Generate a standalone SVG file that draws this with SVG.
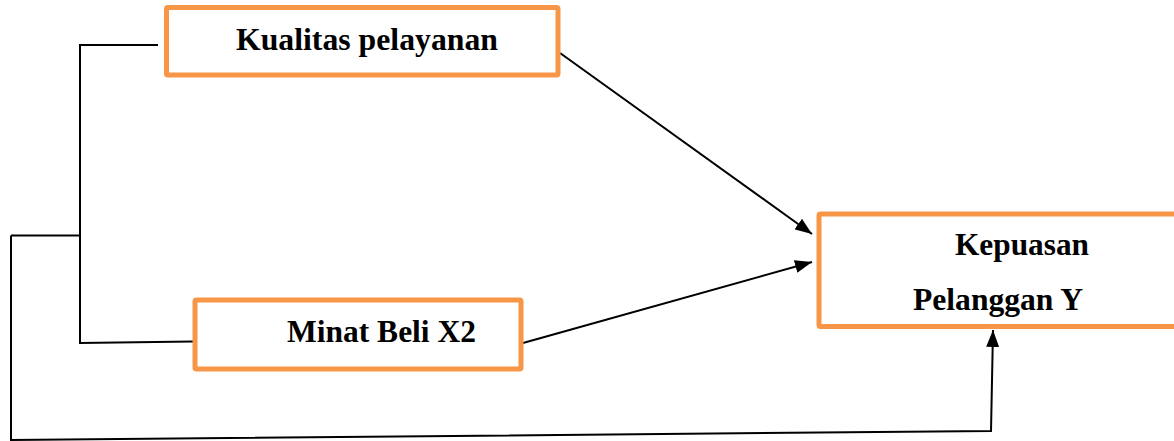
<svg xmlns="http://www.w3.org/2000/svg" width="1174" height="441" viewBox="0 0 1174 441">
  <style>
    .box { fill: #FFFFFF; stroke: #F79646; stroke-width: 5; }
    .label { font-family: "Liberation Serif", "Times New Roman", serif; font-weight: bold; font-size: 31.8px; fill: #000000; }
    .wire { fill: none; stroke: #000000; stroke-width: 2; }
    .arrow { fill: none; stroke: #000000; stroke-width: 2; marker-end: url(#head); }
  </style>
  <defs>
    <marker id="head" viewBox="0 0 17 13" refX="17" refY="6.5" markerWidth="17" markerHeight="13" markerUnits="userSpaceOnUse" orient="auto">
      <path d="M0,0 L17,6.5 L0,13 Z" fill="#000000"/>
    </marker>
  </defs>
  <rect width="1174" height="441" fill="#FFFFFF"/>

  <g id="connectors">
    <!-- bracket joining the two predictors -->
    <polyline class="wire" points="158,45 80,45 80,343 193,341.5"/>
    <line class="wire" x1="80" y1="235.5" x2="11" y2="235.5"/>
    <!-- outer loop to the outcome box -->
    <polyline class="arrow" points="11,235.5 11,440 991,431 993,330"/>
    <!-- direct paths -->
    <line class="arrow" x1="560" y1="53" x2="812" y2="234"/>
    <line class="arrow" x1="523" y1="343" x2="812" y2="262"/>
  </g>

  <g id="kualitas">
    <rect class="box" x="166.5" y="7.5" width="391.5" height="67.5" rx="1.5"/>
    <text class="label" x="236" y="50" textLength="262" lengthAdjust="spacingAndGlyphs">Kualitas pelayanan</text>
  </g>

  <g id="minat">
    <rect class="box" x="195" y="300" width="326" height="69" rx="1.5"/>
    <text class="label" x="287" y="341.5" textLength="189" lengthAdjust="spacingAndGlyphs">Minat Beli X2</text>
  </g>

  <g id="kepuasan">
    <rect class="box" x="819" y="214" width="400" height="112.5" rx="1.5"/>
    <text class="label" x="955" y="255" textLength="134" lengthAdjust="spacingAndGlyphs">Kepuasan</text>
    <text class="label" x="913" y="310" textLength="170" lengthAdjust="spacingAndGlyphs">Pelanggan Y</text>
  </g>
</svg>
